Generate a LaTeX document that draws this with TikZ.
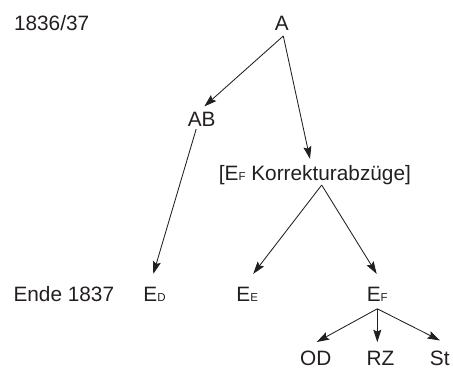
\documentclass[tikz,border=0pt]{standalone}
\usepackage{fontspec}
\setmainfont{Liberation Sans}
\usetikzlibrary{arrows.meta,calc}
\definecolor{ink}{HTML}{231F20}
\newcommand{\subidx}[1]{{\fontsize{11.5pt}{11.5pt}\selectfont #1}}
\begin{document}
\begin{tikzpicture}[x=1pt,y=-1pt,
  lbl/.style={inner sep=0pt,outer sep=0pt,anchor=base,text=ink,font=\fontsize{20.8pt}{24pt}\selectfont},
  arr/.style={draw=ink,line width=0.85pt,-{Stealth[length=12.5pt,width=8pt,inset=2pt]}}]
\useasboundingbox (0,0) rectangle (453,368);
% labels
\node[lbl,anchor=base west] (y1) at (14,30) {1836/37};
\node[lbl,anchor=base west] (y2) at (13.5,301.5) {Ende 1837};
% nodes
\node[lbl] (A) at (281.8,30) {A};
\node[lbl] (AB) at (201.7,126) {AB};
\node[lbl] (K) at (314.9,180) {[E\subidx{F} Korrekturabzüge]};
\node[lbl] (ED) at (154.5,301.5) {E\subidx{D}};
\node[lbl] (EE) at (247.2,301.5) {E\subidx{E}};
\node[lbl] (EF) at (377.3,301.5) {E\subidx{F}};
\node[lbl] (OD) at (315.8,365) {OD};
\node[lbl] (RZ) at (380.5,365) {RZ};
\node[lbl] (St) at (439.7,365) {St};
% connectors
\draw[arr] ($(A.south)+(1.5,6)$) -- ($(AB.north)+(2.6,-5.3)$);
\draw[arr] ($(A.south)+(1.5,6)$) -- ($(K.north)+(-4.9,-6)$);
\draw[arr] ($(AB.south)+(-5.5,3)$) -- ($(ED.north)+(-1.2,-13.3)$);
\draw[arr] ($(K.south)+(6.8,0.7)$) -- ($(EE.north)+(6,-13.3)$);
\draw[arr] ($(K.south)+(6.8,0.7)$) -- ($(EF.north)+(-0.6,-13.3)$);
\draw[arr] ($(EF.south)+(0,7.3)$) -- ($(OD.north)+(0.9,-8.5)$);
\draw[arr] ($(EF.south)+(0,7.3)$) -- ($(RZ.north)+(-3.2,-8.5)$);
\draw[arr] ($(EF.south)+(0,7.3)$) -- ($(St.north)+(0.3,-10)$);
\end{tikzpicture}
\end{document}
